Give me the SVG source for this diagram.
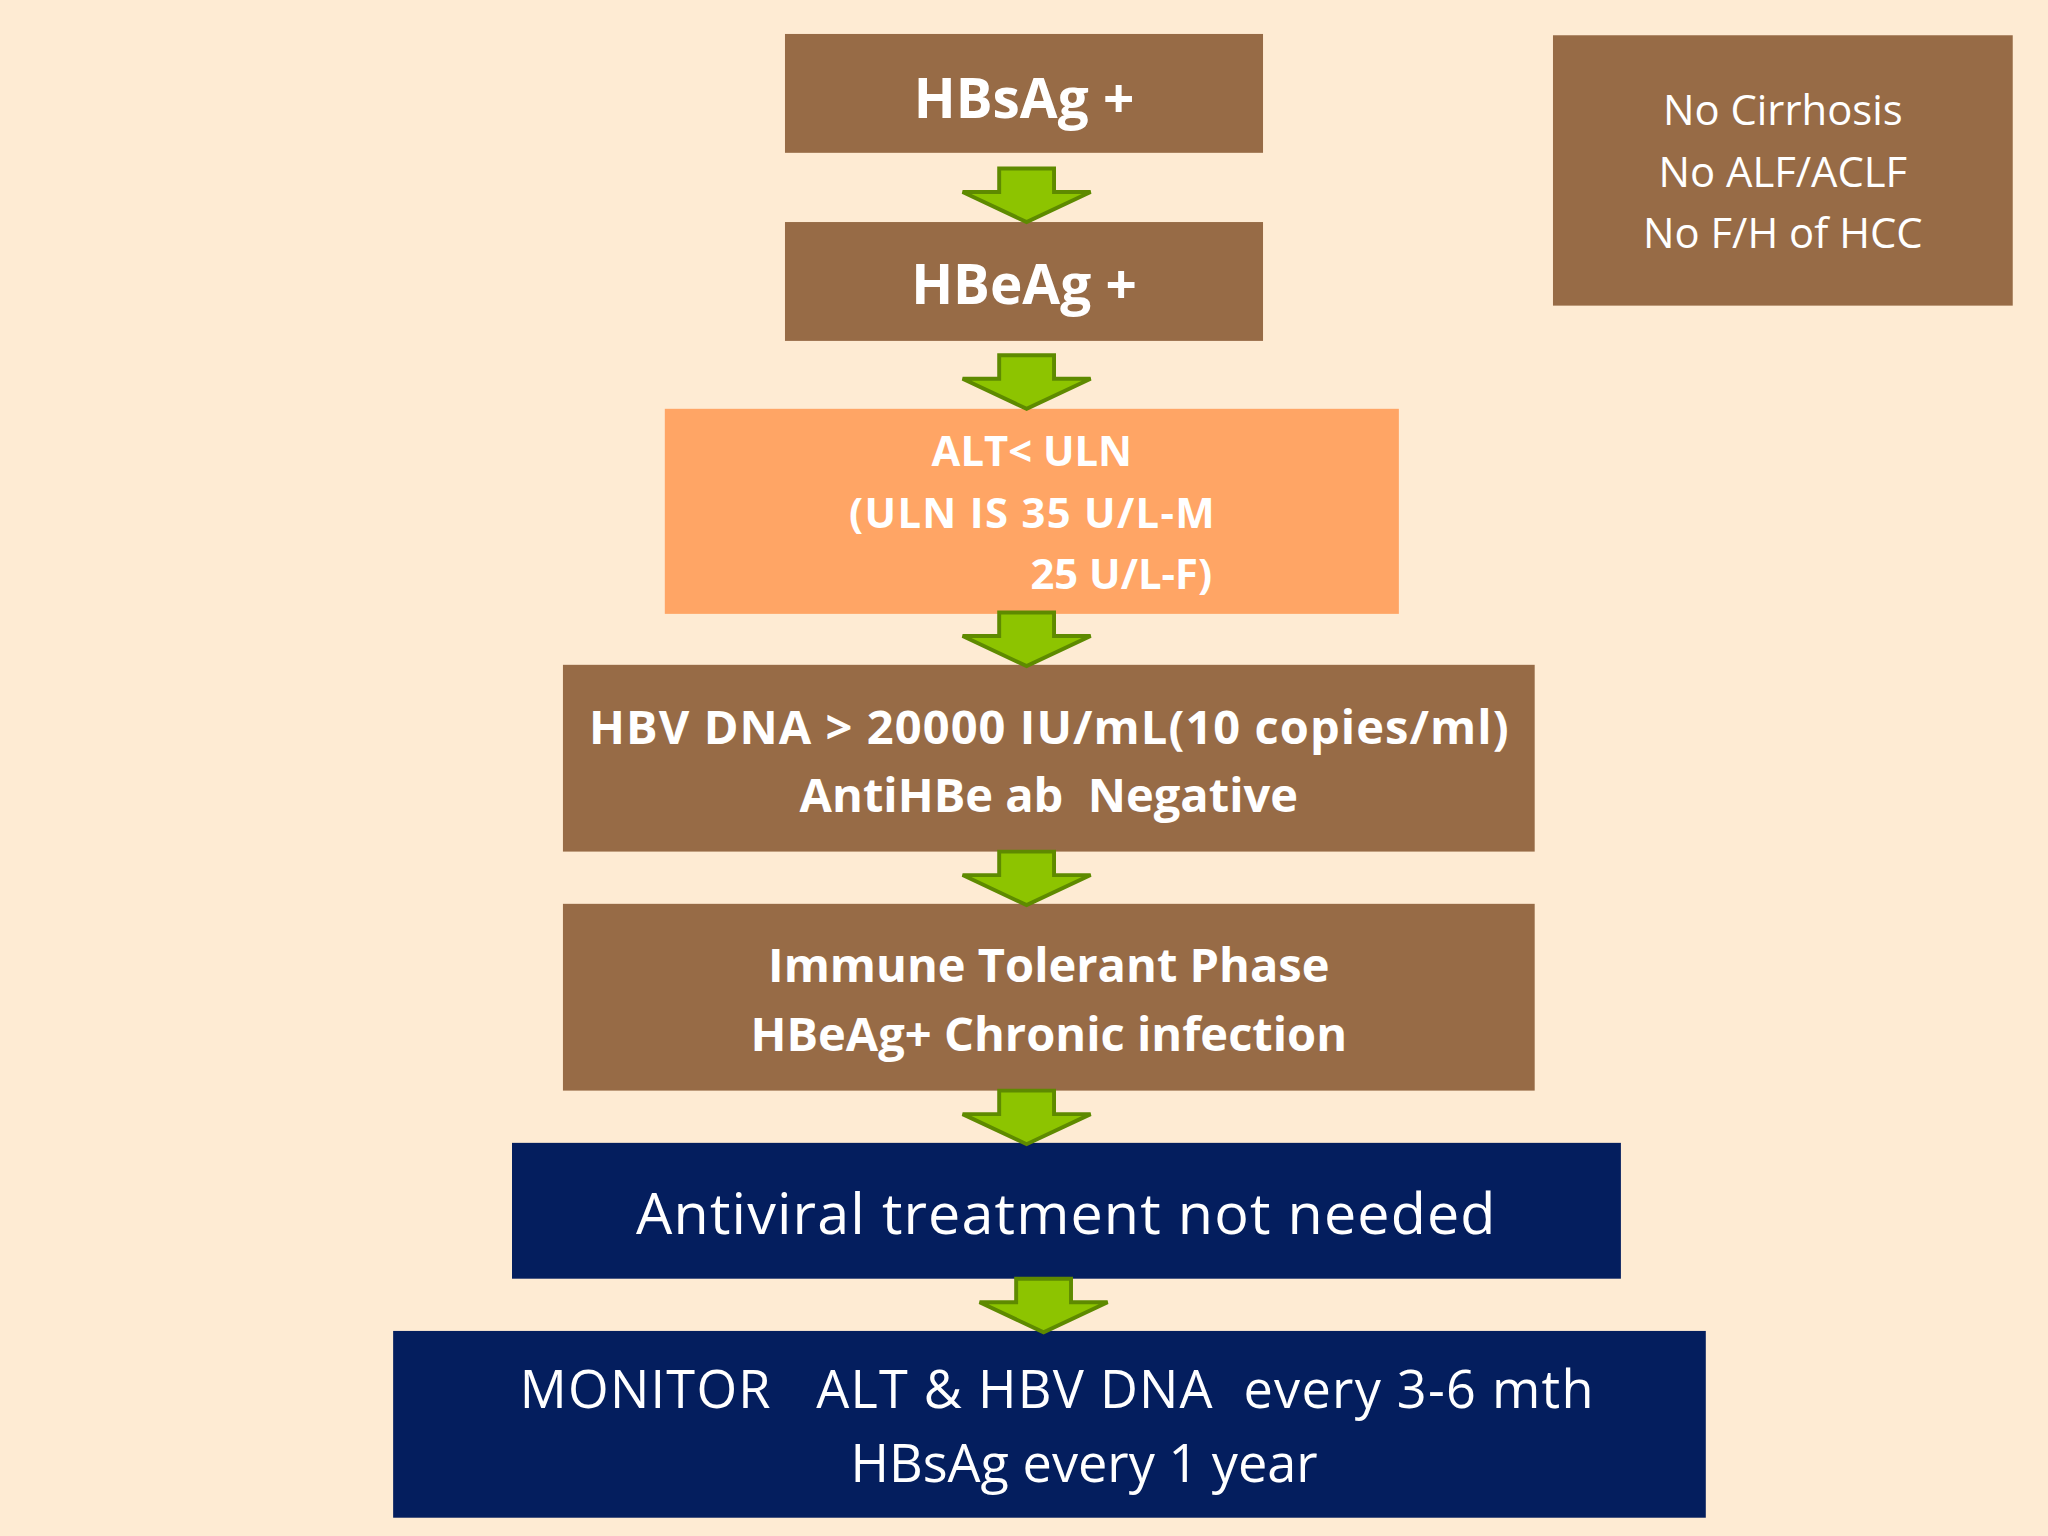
<svg xmlns="http://www.w3.org/2000/svg" width="2048" height="1536" viewBox="0 0 2048 1536">
<style>
.b{fill:#976B46}.n{fill:#041E5E}
text{font-family:"Open Sans","Noto Sans",sans-serif;fill:#fff;text-anchor:middle;white-space:pre}
.bd{font-weight:bold}
.ar{fill:#8DC400;stroke:#5E8A00;stroke-width:3;stroke-linejoin:miter}
</style>
<defs>
<path id="arr" class="ar" d="M-21,0 H21 V18 H49 L0,41 L-49,18 H-21 Z"/>
</defs>
<rect width="2048" height="1536" fill="#FEEBD3"/>
<g transform="scale(1.30612)">
<g id="n1"><rect class="b" x="601" y="26" width="366" height="91"/><text class="bd" x="784" y="90" font-size="42">HBsAg +</text></g>
<g id="n2"><rect class="b" x="601" y="170" width="366" height="91"/><text class="bd" x="784" y="233" font-size="42">HBeAg +</text></g>
<g id="side"><rect class="b" x="1189" y="27" width="352" height="207"/>
<text x="1365" y="96" font-size="32">No Cirrhosis</text><text x="1365" y="143" font-size="32">No ALF/ACLF</text><text x="1365" y="190" font-size="32">No F/H of HCC</text></g>
<g id="n3"><rect fill="#FFA565" x="509" y="313" width="562" height="157"/>
<text class="bd" x="790" y="357" font-size="32">ALT&lt; ULN</text>
<text class="bd" x="790" y="404" font-size="32" textLength="280">(ULN IS 35 U/L-M</text>
<text class="bd" x="928" y="451" font-size="32" style="text-anchor:end">25 U/L-F)</text></g>
<g id="n4"><rect class="b" x="431" y="509" width="744" height="143"/>
<text class="bd" x="803" y="570" font-size="36" textLength="704">HBV DNA &gt; 20000 IU/mL(10 copies/ml)</text>
<text class="bd" x="803" y="622" font-size="36">AntiHBe ab  Negative</text></g>
<g id="n5"><rect class="b" x="431" y="692" width="744" height="143"/>
<text class="bd" x="803" y="752" font-size="36">Immune Tolerant Phase</text>
<text class="bd" x="803" y="805" font-size="36">HBeAg+ Chronic infection</text></g>
<g id="n6"><rect class="n" x="392" y="875" width="849" height="104"/>
<text x="816" y="945" font-size="44" textLength="658">Antiviral treatment not needed</text></g>
<g id="n7"><rect class="n" x="301" y="1019" width="1005" height="143"/>
<text x="809" y="1078" font-size="40" textLength="822">MONITOR   ALT &amp; HBV DNA  every 3-6 mth</text>
<text x="830" y="1135" font-size="40">HBsAg every 1 year</text></g>
<g id="connectors">
<use href="#arr" x="786" y="129"/>
<use href="#arr" x="786" y="272"/>
<use href="#arr" x="786" y="469"/>
<use href="#arr" x="786" y="652"/>
<use href="#arr" x="786" y="835"/>
<use href="#arr" x="799" y="979"/>
</g>
</g>
</svg>
